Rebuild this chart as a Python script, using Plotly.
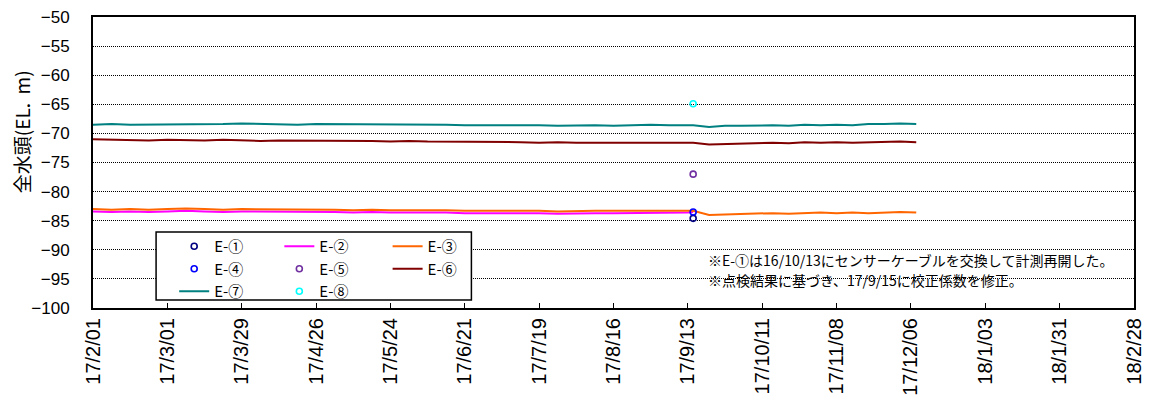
import pandas as pd
import plotly.graph_objects as go

# ---- data ----
dates_pre = list(pd.date_range("2017-02-01", periods=33, freq="7D")) + [pd.Timestamp("2017-09-15")]
dates_post = list(pd.date_range("2017-09-21", periods=14, freq="6D"))
dates_all = dates_pre + dates_post
point_date = [pd.Timestamp("2017-09-15")]

e7 = [-68.5, -68.4, -68.5, -68.5, -68.4, -68.5, -68.4, -68.4, -68.3, -68.4, -68.4, -68.5,
      -68.4, -68.4, -68.5, -68.4, -68.5, -68.5, -68.4, -68.5, -68.6, -68.6, -68.5, -68.6,
      -68.6, -68.7, -68.6, -68.6, -68.7, -68.6, -68.5, -68.6, -68.6, -68.6,
      -68.9, -68.7, -68.7, -68.6, -68.6, -68.7, -68.5, -68.6, -68.5, -68.6, -68.4, -68.4, -68.3, -68.4]
e6 = [-71.0, -71.1, -71.1, -71.2, -71.1, -71.2, -71.2, -71.1, -71.2, -71.3, -71.2, -71.2,
      -71.3, -71.2, -71.3, -71.3, -71.4, -71.3, -71.4, -71.4, -71.5, -71.4, -71.5, -71.5,
      -71.6, -71.5, -71.6, -71.6, -71.6, -71.5, -71.6, -71.6, -71.6, -71.6,
      -71.9, -71.8, -71.7, -71.6, -71.6, -71.7, -71.5, -71.6, -71.5, -71.6, -71.5, -71.5, -71.4, -71.5]
e3 = [-83.0, -83.1, -83.0, -83.1, -83.0, -82.9, -83.0, -83.1, -83.0, -83.0, -83.1, -83.0,
      -83.1, -83.1, -83.2, -83.1, -83.2, -83.2, -83.1, -83.2, -83.3, -83.3, -83.2, -83.3,
      -83.3, -83.4, -83.3, -83.3, -83.3, -83.3, -83.2, -83.3, -83.3, -83.3,
      -84.0, -83.9, -83.8, -83.8, -83.7, -83.8, -83.7, -83.6, -83.7, -83.6, -83.7, -83.6, -83.5, -83.6]
e2 = [-83.4, -83.5, -83.4, -83.5, -83.4, -83.3, -83.4, -83.5, -83.4, -83.4, -83.5, -83.4,
      -83.5, -83.5, -83.6, -83.5, -83.6, -83.6, -83.5, -83.6, -83.7, -83.7, -83.6, -83.7,
      -83.7, -83.8, -83.7, -83.7, -83.7, -83.7, -83.6, -83.7, -83.6, -83.5]
e1 = [-84.6]
e4 = [-83.5]
e5 = [-77.0]
e8 = [-64.9]

tick_dates = list(pd.date_range("2017-02-01", periods=15, freq="28D"))
tick_text = ["17/2/01", "17/3/01", "17/3/29", "17/4/26", "17/5/24", "17/6/21", "17/7/19",
             "17/8/16", "17/9/13", "17/10/11", "17/11/08", "17/12/06", "18/1/03", "18/1/31", "18/2/28"]
y_ticks = [-50, -55, -60, -65, -70, -75, -80, -85, -90, -95, -100]

y_title = "全水頭(EL.  m)"
annot1 = "※E-①は16/10/13にセンサーケーブルを交換して計測再開した。"
annot2 = "※点検結果に基づき、17/9/15に校正係数を修正。"

JP = "Noto Sans CJK JP"
AR = "Liberation Sans, Arial, sans-serif"

fig = go.Figure()

def line(x, y, name, color, legend, rank):
    fig.add_trace(go.Scatter(x=x, y=y, name=name, mode="lines", legend=legend, legendrank=rank,
                             line=dict(color=color, width=2)))

def pts(x, y, name, color, legend, rank):
    fig.add_trace(go.Scatter(x=x, y=y, name=name, mode="markers", legend=legend, legendrank=rank,
                             marker=dict(symbol="circle-open", size=6, color=color,
                                         line=dict(width=1.6, color=color))))

# lines first (drawn below), then points
line(dates_all, e7, "E-⑦", "#008080", "legend", 3)
line(dates_pre, e2, "E-②", "#FF00FF", "legend2", 1)
line(dates_all, e3, "E-③", "#FF6600", "legend3", 1)
line(dates_all, e6, "E-⑥", "#800000", "legend3", 2)
pts(point_date, e1, "E-①", "#000080", "legend", 1)
pts(point_date, e4, "E-④", "#0000FF", "legend", 2)
pts(point_date, e5, "E-⑤", "#7030A0", "legend2", 2)
pts(point_date, e8, "E-⑧", "#00FFFF", "legend2", 3)

leg_common = dict(bgcolor="rgba(0,0,0,0)", borderwidth=0, yanchor="top", xanchor="left",
                  font=dict(family=JP, size=15, color="black"), traceorder="normal",
                  itemwidth=30)

fig.update_layout(
    width=1161, height=400,
    margin=dict(l=85, r=35, t=9, b=100),
    paper_bgcolor="white", plot_bgcolor="white",
    showlegend=True,
    legend=dict(x=0.078, y=0.268, **leg_common),
    legend2=dict(x=0.179, y=0.268, **leg_common),
    legend3=dict(x=0.283, y=0.268, **leg_common),
    xaxis=dict(range=[tick_dates[0], tick_dates[-1]], tickvals=tick_dates, ticktext=tick_text,
               tickangle=-90, ticks="inside", ticklen=5, tickcolor="black", automargin=False,
               showgrid=False, showline=True, linecolor="black", linewidth=2, mirror=True,
               ticklabeloverflow="allow",
               tickfont=dict(family=AR, size=20, color="black"), zeroline=False),
    yaxis=dict(range=[-100, -50], tickvals=y_ticks, showgrid=True, gridcolor="#000000",
               griddash="1px,1px", gridwidth=1, showline=True, linecolor="black", linewidth=2,
               mirror=True, ticks="", tickfont=dict(family=AR, size=17, color="black"),
               ticklabelstandoff=18, zeroline=False, automargin=False,
               ticklabeloverflow="allow"),
    shapes=[dict(type="rect", xref="paper", yref="paper", x0=0.0606, x1=0.3635, y0=0.0275,
                 y1=0.261, line=dict(color="black", width=1.5), fillcolor="white", layer="above")],
    annotations=[
        dict(text=y_title, xref="paper", yref="paper", x=-0.068, y=0.605, xanchor="center",
             yanchor="middle", textangle=-90, showarrow=False,
             font=dict(family=JP, size=19, color="black")),
        dict(text=annot1, xref="paper", yref="paper", x=0.589, y=0.165, xanchor="left",
             yanchor="middle", showarrow=False, font=dict(family=JP, size=14, color="black")),
        dict(text=annot2, xref="paper", yref="paper", x=0.589, y=0.096, xanchor="left",
             yanchor="middle", showarrow=False, font=dict(family=JP, size=14, color="black")),
    ],
)

fig.write_html("out.html")
